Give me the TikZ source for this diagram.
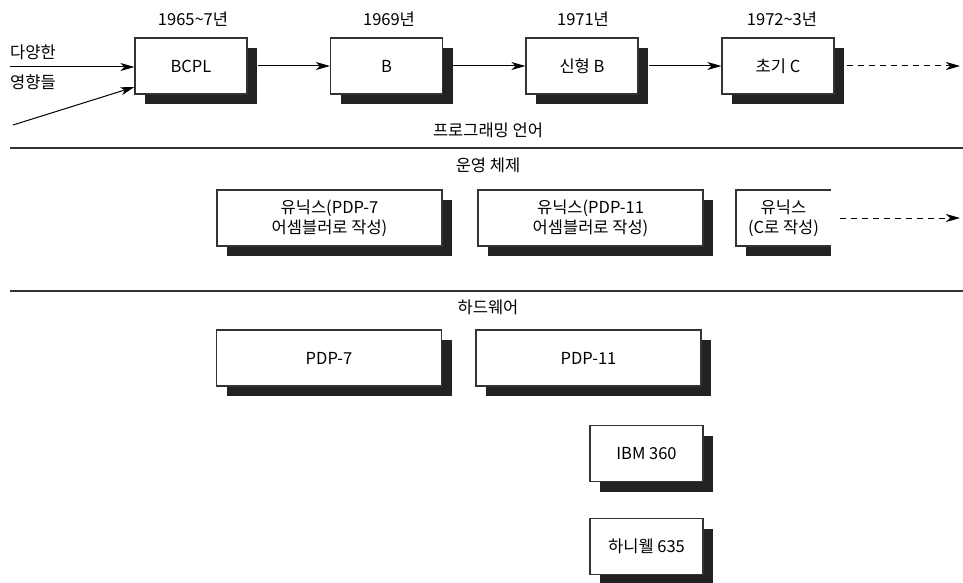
\documentclass[tikz,border=0pt]{standalone}
\usepackage{fontspec}
\setmainfont{Noto Sans CJK KR}
\usetikzlibrary{arrows.meta,shadows}
\definecolor{shadowc}{HTML}{222222}
\definecolor{edgec}{HTML}{333333}
\tikzset{
  box/.style={draw=edgec, line width=1.2pt, fill=white, minimum height=56pt, inner sep=0pt,
    align=center, font=\fontsize{16.5}{20}\selectfont,
    drop shadow={shadow xshift=10pt, shadow yshift=-10pt, fill=shadowc, opacity=1}},
  topbox/.style={box, minimum width=112pt},
  wide/.style={box, minimum width=225pt},
  small/.style={box, minimum width=113pt},
  lbl/.style={font=\fontsize{16.5}{20}\selectfont, inner sep=0pt},
  arr/.style={line width=1pt, -{Stealth[length=14pt,width=8pt,inset=4pt]}},
  darr/.style={arr, dash pattern=on 6pt off 5pt},
  rule/.style={line width=2.2pt, draw=edgec}
}
\begin{document}
\begin{tikzpicture}[x=1pt,y=-1pt]
\useasboundingbox (0,0) rectangle (963,583);
% programming language row
\node[topbox] (bcpl) at (191,66) {BCPL};
\node[topbox] (b) at (386.5,66) {B};
\node[topbox] (nb) at (582,66) {신형 B};
\node[topbox] (ec) at (778,66) {초기 C};
\node[lbl] (y1) at (193,19) {1965\char"007E 7년};
\node[lbl] (y2) at (389,19) {1969년};
\node[lbl] (y3) at (583,19) {1971년};
\node[lbl] (y4) at (782,19) {1972\char"007E 3년};
\node[lbl, anchor=west] (in1) at (10,52) {다양한};
\node[lbl, anchor=west] (in2) at (10,82) {영향들};
\coordinate (s1) at (10,67);
\coordinate (s2) at (13,125);
\coordinate (e1) at (960,66);
\draw[arr] (s1) -- (s1 -| bcpl.west);
\draw[arr] (s2) -- ([yshift=-21pt]bcpl.west);
\draw[arr] ([xshift=10pt]bcpl.east) -- (b.west);
\draw[arr] ([xshift=10pt]b.east) -- (nb.west);
\draw[arr] ([xshift=10pt]nb.east) -- (ec.west);
\draw[darr] ([xshift=12pt]ec.east) -- (e1);
\node[lbl] (pl) at (488,130) {프로그래밍 언어};
% rule 1
\coordinate (r1a) at (10,148);
\coordinate (r1b) at (963,148);
\draw[rule] (r1a) -- (r1b);
\node[lbl] (os) at (488,165) {운영 체제};
\node[wide] (u1) at (329.5,218) {유닉스(PDP-7\\어셈블러로 작성)};
\node[wide] (u2) at (590.5,218) {유닉스(PDP-11\\어셈블러로 작성)};
% open box
\fill[shadowc] (746,200) rectangle (831,256);
\fill[white] (736,190) rectangle (831,246);
\draw[draw=edgec, line width=1.2pt] (831,190) -- (736,190) -- (736,246) -- (831,246);
\node[lbl, align=center] (u3) at (783.5,218) {유닉스\\(C로 작성)};
\coordinate (u3e) at (840,218);
\coordinate (e2) at (960,218);
\draw[darr] (u3e) -- (e2);
% rule 2
\coordinate (r2a) at (10,291);
\coordinate (r2b) at (963,291);
\draw[rule] (r2a) -- (r2b);
\node[lbl] (hw) at (488,307) {하드웨어};
\node[wide] (p7) at (329,358) {PDP-7};
\node[wide] (p11) at (588.5,358) {PDP-11};
\node[small] (ibm) at (646.5,453.5) {IBM 360};
\node[small] (hon) at (646.5,546.5) {하니웰 635};
\end{tikzpicture}
\end{document}
